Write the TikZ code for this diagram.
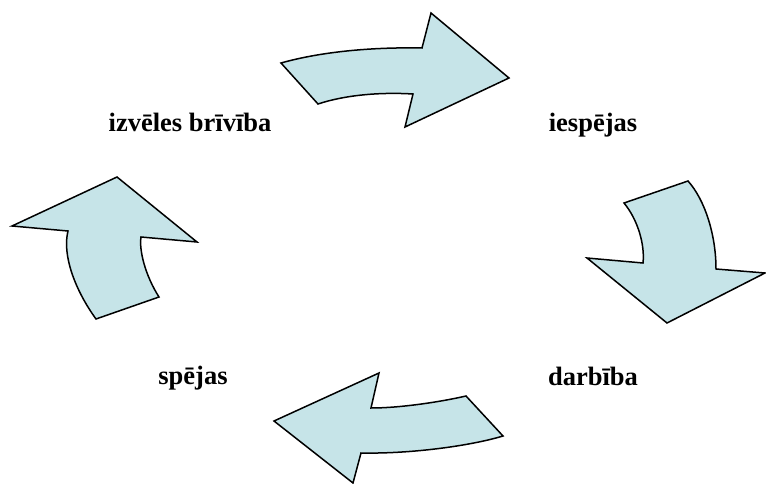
\documentclass[tikz,border=0pt]{standalone}
\usepackage{fontspec}
\setmainfont{Liberation Serif}
\definecolor{arrowfill}{RGB}{198,228,232}
\begin{document}
\begin{tikzpicture}[x=1pt,y=-1pt,
    label/.style={anchor=base,inner sep=0pt,font=\bfseries\fontsize{26.5}{30}\selectfont},
    block/.style={draw=black,fill=arrowfill,line width=1.5pt,line join=miter}]
  \useasboundingbox (0,0) rectangle (766,484);
  \draw
    (190,132) node[label] (izv){izvēles brīvība}
    (593,132) node[label] (iesp){iespējas}
    (593,385) node[label] (darb){darbība}
    (193,384) node[label] (spej){spējas};
  \draw[block] (281,63) .. controls (320,52) and (370,47) .. (422,48) -- (431,13) -- (509,78)
    -- (405,127) -- (413,94) .. controls (380,92) and (345,95) .. (318,104) -- cycle;
  \draw[block] (624,203) -- (688,181) .. controls (705,200) and (716,235) .. (716,269) -- (765,273)
    -- (667,323) -- (587,258) -- (643,263) .. controls (645,245) and (638,220) .. cycle;
  \draw[block] (466,396) .. controls (440,402) and (400,408) .. (371,408) -- (379,373) -- (274,421)
    -- (353,483) -- (361,453) .. controls (410,454) and (470,446) .. (503,436) -- cycle;
  \draw[block] (96,319) -- (159,297) .. controls (145,275) and (139,250) .. (141,237) -- (197,242)
    -- (117,177) -- (12,226) -- (68,231) .. controls (62,255) and (75,290) .. cycle;
\end{tikzpicture}
\end{document}
